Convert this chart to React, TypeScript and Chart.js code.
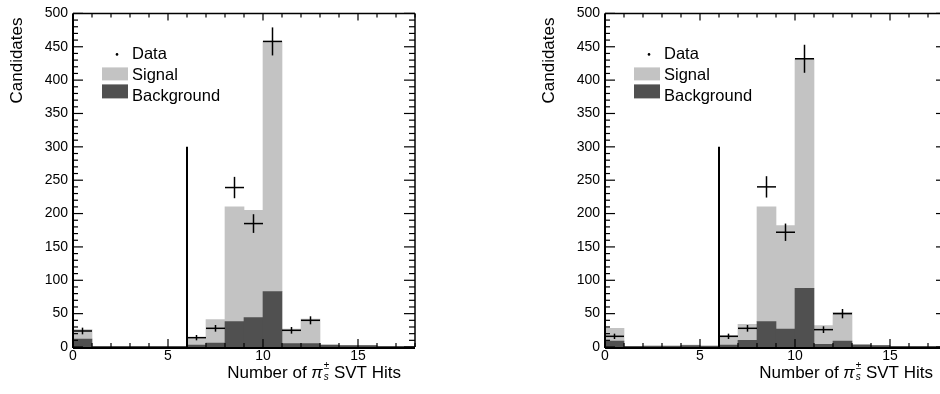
import React, { useEffect, useRef } from "react";
import { Chart, registerables } from "chart.js";

Chart.register(...registerables);

// ---- data ----
const binLowEdges = [0, 1, 2, 3, 4, 5, 6, 7, 8, 9, 10, 11, 12, 13, 14, 15, 16, 17];

const leftSignal = [14, 0, 0, 0, 0, 0, 11, 35, 172, 161, 375, 22, 37, 0, 0, 0, 0, 0];
const leftBackground = [12, 1, 1, 1, 1, 1, 3, 6, 38, 44, 83, 5, 5, 3, 2, 2, 1, 1];
const leftData = [24, null, null, null, null, null, 14, 28, 239, 185, 458, 25, 40, null, null, null, null, null];
const leftDataErr = [5, null, null, null, null, null, 4, 5, 16, 14, 21, 5, 6, null, null, null, null, null];

const rightSignal = [19, 0, 1, 1, 1, 1, 14, 24, 172, 155, 344, 28, 43, 1, 0, 0, 0, 0];
const rightBackground = [9, 1, 1, 1, 2, 1, 3, 10, 38, 27, 88, 4, 9, 3, 2, 1, 1, 1];
const rightData = [16, null, null, null, null, null, 16, 28, 240, 172, 432, 26, 50, null, null, null, null, null];
const rightDataErr = [4, null, null, null, null, null, 4, 5, 16, 13, 21, 5, 7, null, null, null, null, null];

const cutPosition = 6;
const cutHeight = 300;

const xMin = 0;
const xMax = 18;
const yMin = 0;
const yMax = 500;
const xStep = 5;
const yStep = 50;

const legendLabels = ["Data", "Signal", "Background"];
const yTitle = "Candidates";

// ---- styles ----
const FONT = "'Liberation Sans', Arial, Helvetica, sans-serif";
const SIG_COLOR = "#c3c3c3";
const BKG_COLOR = "#505050";

function line(ctx: CanvasRenderingContext2D, x1: number, y1: number, x2: number, y2: number) {
  ctx.beginPath();
  ctx.moveTo(x1, y1);
  ctx.lineTo(x2, y2);
  ctx.stroke();
}

function makeDecorPlugin(data: (number | null)[], err: (number | null)[]) {
  return {
    id: "decor",
    afterDatasetsDraw(chart: any) {
      const ctx: CanvasRenderingContext2D = chart.ctx;
      const { left, right, top, bottom } = chart.chartArea;
      const xs = chart.scales.x;
      const ys = chart.scales.y;
      ctx.save();
      ctx.strokeStyle = "#000";
      ctx.fillStyle = "#000";

      // data points with error crosses
      ctx.lineWidth = 1.5;
      binLowEdges.forEach((e, i) => {
        const v = data[i];
        if (v == null) return;
        const er = err[i] ?? 0;
        const x1 = xs.getPixelForValue(e);
        const x2 = xs.getPixelForValue(e + 1);
        const xc = xs.getPixelForValue(e + 0.5);
        const yc = ys.getPixelForValue(v);
        line(ctx, x1, yc, x2, yc);
        line(ctx, xc, ys.getPixelForValue(v - er), xc, ys.getPixelForValue(v + er));
      });

      // frame
      ctx.lineWidth = 1.5;
      line(ctx, left, top, right, top);
      line(ctx, right, top, right, bottom);
      ctx.lineWidth = 2;
      line(ctx, left, bottom + 1, right, bottom + 1);
      line(ctx, left, top, left, bottom + 1);

      // ticks
      ctx.lineWidth = 1.2;
      for (let v = yMin; v <= yMax; v += 10) {
        const py = ys.getPixelForValue(v);
        const major = v % 50 === 0;
        line(ctx, left, py, left + (major ? 10 : 5), py);
        line(ctx, right, py, right - (major ? 11 : 6), py);
      }
      for (let v = xMin; v <= xMax; v += 1) {
        const px = xs.getPixelForValue(v);
        const major = v % 5 === 0;
        line(ctx, px, bottom, px, bottom - (major ? 8 : 4));
        line(ctx, px, top, px, top + (major ? 7 : 4));
      }

      // legend
      const lx = left + 29;
      ctx.font = `16.5px ${FONT}`;
      ctx.textBaseline = "alphabetic";
      ctx.textAlign = "left";
      ctx.beginPath();
      ctx.arc(left + 44, top + 41, 1.3, 0, Math.PI * 2);
      ctx.fill();
      ctx.fillText(legendLabels[0], left + 59, top + 46);
      ctx.fillStyle = SIG_COLOR;
      ctx.fillRect(lx, top + 54, 26, 13);
      ctx.fillStyle = BKG_COLOR;
      ctx.fillRect(lx, top + 71, 26, 14);
      ctx.fillStyle = "#000";
      ctx.fillText(legendLabels[1], left + 59, top + 67);
      ctx.fillText(legendLabels[2], left + 59, top + 87.5);

      // y title
      ctx.save();
      ctx.font = `17px ${FONT}`;
      ctx.translate(22, 60.5);
      ctx.rotate(-Math.PI / 2);
      ctx.textAlign = "center";
      ctx.fillText(yTitle, 0, 0);
      ctx.restore();

      // x title: Number of π_s^± SVT Hits (right aligned)
      const base = 378;
      const big = `17px ${FONT}`;
      const bigI = `italic 17px ${FONT}`;
      const small = `10px ${FONT}`;
      const smallI = `italic 10px ${FONT}`;
      ctx.font = big;
      const w1 = ctx.measureText("Number of ").width;
      const w4 = ctx.measureText(" SVT Hits").width;
      ctx.font = bigI;
      const w2 = ctx.measureText("π").width;
      ctx.font = small;
      const wSup = ctx.measureText("±").width;
      ctx.font = smallI;
      const wSub = ctx.measureText("s").width;
      const w3 = Math.max(wSup, wSub) + 1;
      const end = right - 14;
      let x0 = end - (w1 + w2 + w3 + w4);
      ctx.font = big;
      ctx.fillText("Number of ", x0, base);
      x0 += w1;
      ctx.font = bigI;
      ctx.fillText("π", x0, base);
      x0 += w2;
      ctx.font = small;
      ctx.fillText("±", x0 + 1, base - 9);
      ctx.font = smallI;
      ctx.fillText("s", x0 + 1, base + 2);
      x0 += w3;
      ctx.font = big;
      ctx.fillText(" SVT Hits", x0, base);

      ctx.restore();
    },
  };
}

type PanelProps = {
  signal: number[];
  background: number[];
  data: (number | null)[];
  err: (number | null)[];
  left: number;
};

function Panel({ signal, background, data, err, left }: PanelProps) {
  const ref = useRef<HTMLCanvasElement>(null);
  useEffect(() => {
    const canvas = ref.current!;
    const tickFont = { family: FONT, size: 14 };
    const chart = new Chart(canvas, {
      type: "bar",
      data: {
        datasets: [
          {
            type: "line",
            label: "Data",
            data: binLowEdges
              .map((e, i) => ({ x: e + 0.5, y: data[i] }))
              .filter((p) => p.y != null) as any,
            showLine: false,
            pointRadius: 0,
            stack: "data",
            order: 0,
          },
          {
            type: "line",
            label: "cut",
            data: [
              { x: cutPosition, y: 0 },
              { x: cutPosition, y: cutHeight },
            ],
            borderColor: "#000",
            borderWidth: 2,
            pointRadius: 0,
            stack: "cut",
            order: 0,
          },
          {
            type: "bar",
            label: "Background",
            data: binLowEdges.map((e, i) => ({ x: e + 0.5, y: background[i] })),
            backgroundColor: BKG_COLOR,
            borderWidth: 0,
            barPercentage: 1,
            categoryPercentage: 1,
            stack: "hist",
            order: 1,
          },
          {
            type: "bar",
            label: "Signal",
            data: binLowEdges.map((e, i) => ({ x: e + 0.5, y: signal[i] })),
            backgroundColor: SIG_COLOR,
            borderWidth: 0,
            barPercentage: 1,
            categoryPercentage: 1,
            stack: "hist",
            order: 1,
          },
        ] as any,
      },
      options: {
        responsive: false,
        animation: false,
        devicePixelRatio: 1,
        layout: { padding: { top: 12, right: 55, left: 0, bottom: 0 } },
        plugins: {
          legend: { display: false },
          tooltip: { enabled: false },
          title: { display: false },
        },
        scales: {
          x: {
            type: "linear",
            min: xMin,
            max: xMax,
            offset: false,
            stacked: true,
            grid: { display: false, drawTicks: false },
            border: { display: false },
            ticks: {
              stepSize: xStep,
              includeBounds: false,
              font: tickFont,
              color: "#000",
              padding: 1,
              maxRotation: 0,
            },
            afterFit: (s: any) => {
              s.height = 47;
            },
          },
          y: {
            type: "linear",
            min: yMin,
            max: yMax,
            stacked: true,
            grid: { display: false, drawTicks: false },
            border: { display: false },
            ticks: {
              stepSize: yStep,
              font: tickFont,
              color: "#000",
              padding: 5,
            },
            afterFit: (s: any) => {
              s.width = 73;
            },
          },
        },
      } as any,
      plugins: [makeDecorPlugin(data, err)],
    });
    return () => chart.destroy();
  }, []);
  return (
    <canvas
      ref={ref}
      width={470}
      height={394}
      style={{ position: "absolute", left, top: 0, width: 470, height: 394 }}
    />
  );
}

export default function App() {
  useEffect(() => {
    document.body.style.margin = "0";
    document.body.style.background = "#fff";
  }, []);
  return (
    <div style={{ position: "relative", width: 940, height: 394, overflow: "hidden", background: "#fff" }}>
      <Panel signal={leftSignal} background={leftBackground} data={leftData} err={leftDataErr} left={0} />
      <Panel signal={rightSignal} background={rightBackground} data={rightData} err={rightDataErr} left={532} />
    </div>
  );
}
